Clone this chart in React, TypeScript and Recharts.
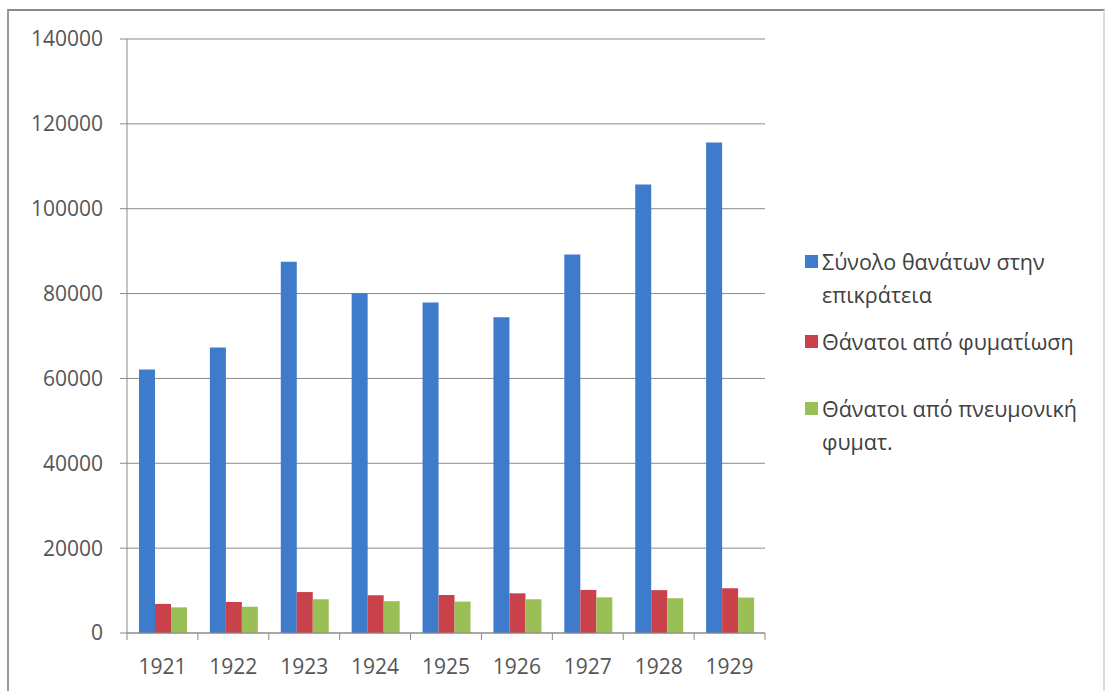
import { BarChart, Bar, XAxis, YAxis, CartesianGrid, Legend } from "recharts";

const years = ["1921", "1922", "1923", "1924", "1925", "1926", "1927", "1928", "1929"];
const totalDeaths = [62100, 67300, 87500, 80100, 77900, 74400, 89200, 105700, 115600];
const tbDeaths = [6850, 7300, 9650, 8900, 8950, 9350, 10150, 10100, 10550];
const pulmonaryTbDeaths = [6050, 6200, 7950, 7500, 7400, 7950, 8400, 8200, 8350];
const yTicks = [0, 20000, 40000, 60000, 80000, 100000, 120000, 140000];
const seriesNames = [
  "Σύνολο θανάτων στην επικράτεια",
  "Θάνατοι από φυματίωση",
  "Θάνατοι από πνευμονική φυματ.",
];
const colors = ["#3F7BCB", "#C9424B", "#99BF56"];

const data = years.map((year, i) => ({
  year,
  total: totalDeaths[i],
  tb: tbDeaths[i],
  ptb: pulmonaryTbDeaths[i],
}));

const FONT = "'Open Sans', sans-serif";
const AXIS = "#8a8a8a";

const XTick = (props: any) => {
  const { x, y, payload, index } = props;
  const half = payload && payload.offset ? payload.offset : 35.4;
  return (
    <g>
      <line x1={x - half} y1={y} x2={x - half} y2={y + 7} stroke={AXIS} />
      {index === years.length - 1 && (
        <line x1={x + half} y1={y} x2={x + half} y2={y + 7} stroke={AXIS} />
      )}
      <text x={x} y={y + 34} dy="0.35em" textAnchor="middle" fill="#555" fontSize={21} fontFamily={FONT}>
        {payload.value}
      </text>
    </g>
  );
};

const itemGaps = [0, 14, 34];

const LegendBox = () => (
  <div style={{ fontFamily: FONT, fontSize: 21.5, color: "#404040", width: 290 }}>
    {seriesNames.map((name, i) => (
      <div key={name} style={{ display: "flex", alignItems: "flex-start", marginTop: itemGaps[i], lineHeight: "33px" }}>
        <span
          style={{
            display: "inline-block",
            width: 13,
            height: 13,
            background: colors[i],
            marginTop: 10,
            marginRight: 4,
            flexShrink: 0,
          }}
        />
        <span style={{ width: 268 }}>{name}</span>
      </div>
    ))}
  </div>
);

export default function App() {
  return (
    <div style={{ position: "absolute", left: 0, top: 0, width: 1107, height: 691, background: "#fff", overflow: "hidden" }}>
      <div
        style={{
          position: "absolute",
          left: 7,
          top: 9,
          width: 1094,
          height: 720,
          borderTop: "2px solid #8c8c8c",
          borderLeft: "2px solid #9a9a9a",
          borderRight: "2px solid #dcdcdc",
        }}
      />
      <div style={{ position: "absolute", left: 0, top: 0 }}>
        <BarChart
          width={1107}
          height={691}
          data={data}
          margin={{ top: 39, right: 52, left: 0, bottom: 0 }}
          barCategoryGap={12}
          barGap={0}
        >
          <CartesianGrid vertical={false} stroke={AXIS} />
          <XAxis
            dataKey="year"
            height={58}
            tickSize={0}
            tickMargin={0}
            stroke={AXIS}
            tick={<XTick />}
            interval={0}
          />
          <YAxis
            width={127}
            domain={[0, 140000]}
            ticks={yTicks}
            tickSize={7}
            tickMargin={17}
            stroke={AXIS}
            tick={{ fill: "#555", fontSize: 21, fontFamily: FONT }}
          />
          <Legend
            layout="vertical"
            align="right"
            verticalAlign="middle"
            content={<LegendBox />}
            wrapperStyle={{ left: 805, top: 245, width: 290 }}
          />
          <Bar dataKey="total" name={seriesNames[0]} fill={colors[0]} isAnimationActive={false} />
          <Bar dataKey="tb" name={seriesNames[1]} fill={colors[1]} isAnimationActive={false} />
          <Bar dataKey="ptb" name={seriesNames[2]} fill={colors[2]} isAnimationActive={false} />
        </BarChart>
      </div>
    </div>
  );
}
